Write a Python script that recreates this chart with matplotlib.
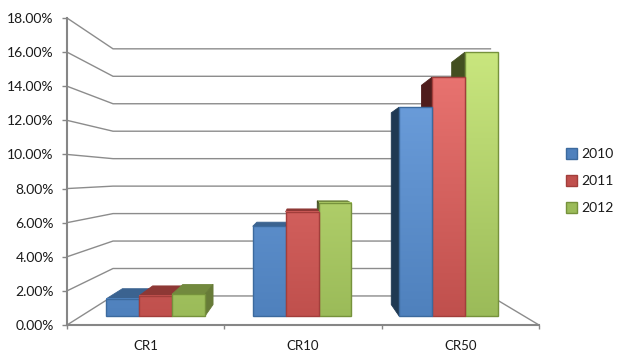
import numpy as np
import matplotlib
matplotlib.use('Agg')
import matplotlib.pyplot as plt
from matplotlib.patches import Patch, Polygon

plt.rcParams['font.family'] = ['Lato', 'DejaVu Sans']

# data
categorias = ['CR1', 'CR10', 'CR50']
anios = ['2010', '2011', '2012']
valores_2010 = [1.08, 5.60, 13.03]
valores_2011 = [1.27, 6.50, 14.90]
valores_2012 = [1.37, 7.05, 16.46]
ticks_y = [0, 2, 4, 6, 8, 10, 12, 14, 16, 18]

series = [valores_2010, valores_2011, valores_2012]

# colores de cada serie: base, claro (arriba), borde, techo, lado izq, lado der
colores = [
    ('#4f81bd', '#70a2e0', '#3c6a9e', '#3b6390', '#1f3953', '#2f4d70'),
    ('#c0504d', '#ec7673', '#a23e3b', '#8e3835', '#4f1d1c', '#7a2f2d'),
    ('#9bbb59', '#c9e67e', '#76923c', '#72893e', '#434f20', '#677b38'),
]

# perspectiva: punto de fuga en coordenadas de datos y profundidades
vx, vy = 1.5, 8.73
s_frente = 0.94
s_fondo = 0.863
s_pared = 0.805
ancho = 0.2225
margen = 0.17
paso = 0.99


def proy(x, y, s):
    return vx + (x - vx) * s, vy + (y - vy) * s


def mezcla(c1, c2, t):
    a = np.array(matplotlib.colors.to_rgb(c1))
    b = np.array(matplotlib.colors.to_rgb(c2))
    return a + (b - a) * t


fig = plt.figure(figsize=(6.2, 3.61), dpi=100)
ax = fig.add_axes([67 / 620, 36 / 361, 472 / 620, 307 / 361])

# paredes y lineas de la cuadricula
gris = '#8c8c8c'
for v in ticks_y:
    x1, y1 = proy(0, v, s_pared)
    x2, y2 = proy(2.98, v, s_pared)
    ax.plot([0, x1, x2], [v, y1, y2], color=gris, lw=1, zorder=1, solid_joinstyle='miter')
x2, y2 = proy(2.98, 0, s_pared)
ax.plot([3, x2], [0, y2], color=gris, lw=1, zorder=1)

# barras: de las mas alejadas del centro hacia las mas cercanas
barras = []
for i in range(len(categorias)):
    for j in range(len(anios)):
        x0 = i * paso + margen + j * ancho
        barras.append((abs(x0 + ancho / 2 - vx), x0, series[j][i], colores[j]))
barras.sort(key=lambda b: -b[0])

z = 3
for _, x0, v, c in barras:
    x1 = x0 + ancho
    base, claro, borde, techo, lado_izq, lado_der = c
    # techo, si se ve
    if v < vy:
        pts = [proy(x0, v, s_frente), proy(x1, v, s_frente), proy(x1, v, s_fondo), proy(x0, v, s_fondo)]
        ax.add_patch(Polygon(pts, fc=techo, ec=techo, lw=0.6, zorder=z))
    # lado izquierdo o derecho
    if x0 > vx:
        pts = [proy(x0, 0, s_frente), proy(x0, v, s_frente), proy(x0, v, s_fondo), proy(x0, 0, s_fondo)]
        ax.add_patch(Polygon(pts, fc=lado_izq, ec=lado_izq, lw=0.6, zorder=z))
    if x1 < vx:
        pts = [proy(x1, 0, s_frente), proy(x1, v, s_frente), proy(x1, v, s_fondo), proy(x1, 0, s_fondo)]
        ax.add_patch(Polygon(pts, fc=lado_der, ec=lado_der, lw=0.6, zorder=z))
    # frente con degradado segun la altura
    xa, ya = proy(x0, 0, s_frente)
    xb, yb = proy(x1, v, s_frente)
    alturas = np.linspace(v, 0, 64)
    img = np.array([mezcla(base, claro, a / 16.5) for a in alturas])[:, None, :]
    ax.imshow(img, extent=[xa, xb, ya, yb], aspect='auto', interpolation='bilinear', zorder=z + 1)
    ax.add_patch(Polygon([(xa, ya), (xb, ya), (xb, yb), (xa, yb)], fc='none', ec=borde, lw=1, zorder=z + 2))
    z += 3

ax.set_xlim(0, 3)
ax.set_ylim(0, 18)
ax.patch.set_visible(False)
ax.spines['top'].set_visible(False)
ax.spines['right'].set_visible(False)
ax.spines['left'].set_color('#868686')
ax.spines['bottom'].set_color('#868686')
ax.spines['left'].set_linewidth(1.5)
ax.spines['bottom'].set_linewidth(1.5)

ax.set_yticks(ticks_y)
ax.set_yticklabels(['%.2f%%' % t for t in ticks_y], fontsize=10, color='#1a1a1a')
ax.tick_params(axis='y', length=3.5, width=1, color='#868686', pad=6)

ax.set_xticks([0, 1, 2, 3])
ax.set_xticklabels([])
ax.tick_params(axis='x', length=3, width=1, color='#868686')
ax.set_xticks([0.5, 1.5, 2.5], minor=True)
ax.set_xticklabels(categorias, minor=True, fontsize=9.5, color='#1a1a1a')
ax.tick_params(axis='x', which='minor', length=0, pad=11)

# leyenda
handles = [Patch(fc=colores[k][0], ec=colores[k][2], label=anios[k]) for k in range(3)]
fig.legend(handles=handles, loc='center left', bbox_to_anchor=(566 / 620, 1 - 181 / 361), frameon=False,
           fontsize=10, handlelength=0.8, handleheight=0.8, handletextpad=0.3, labelspacing=1.07,
           borderpad=0, borderaxespad=0, labelcolor='#1a1a1a')

fig.savefig('out.png', dpi=100)
